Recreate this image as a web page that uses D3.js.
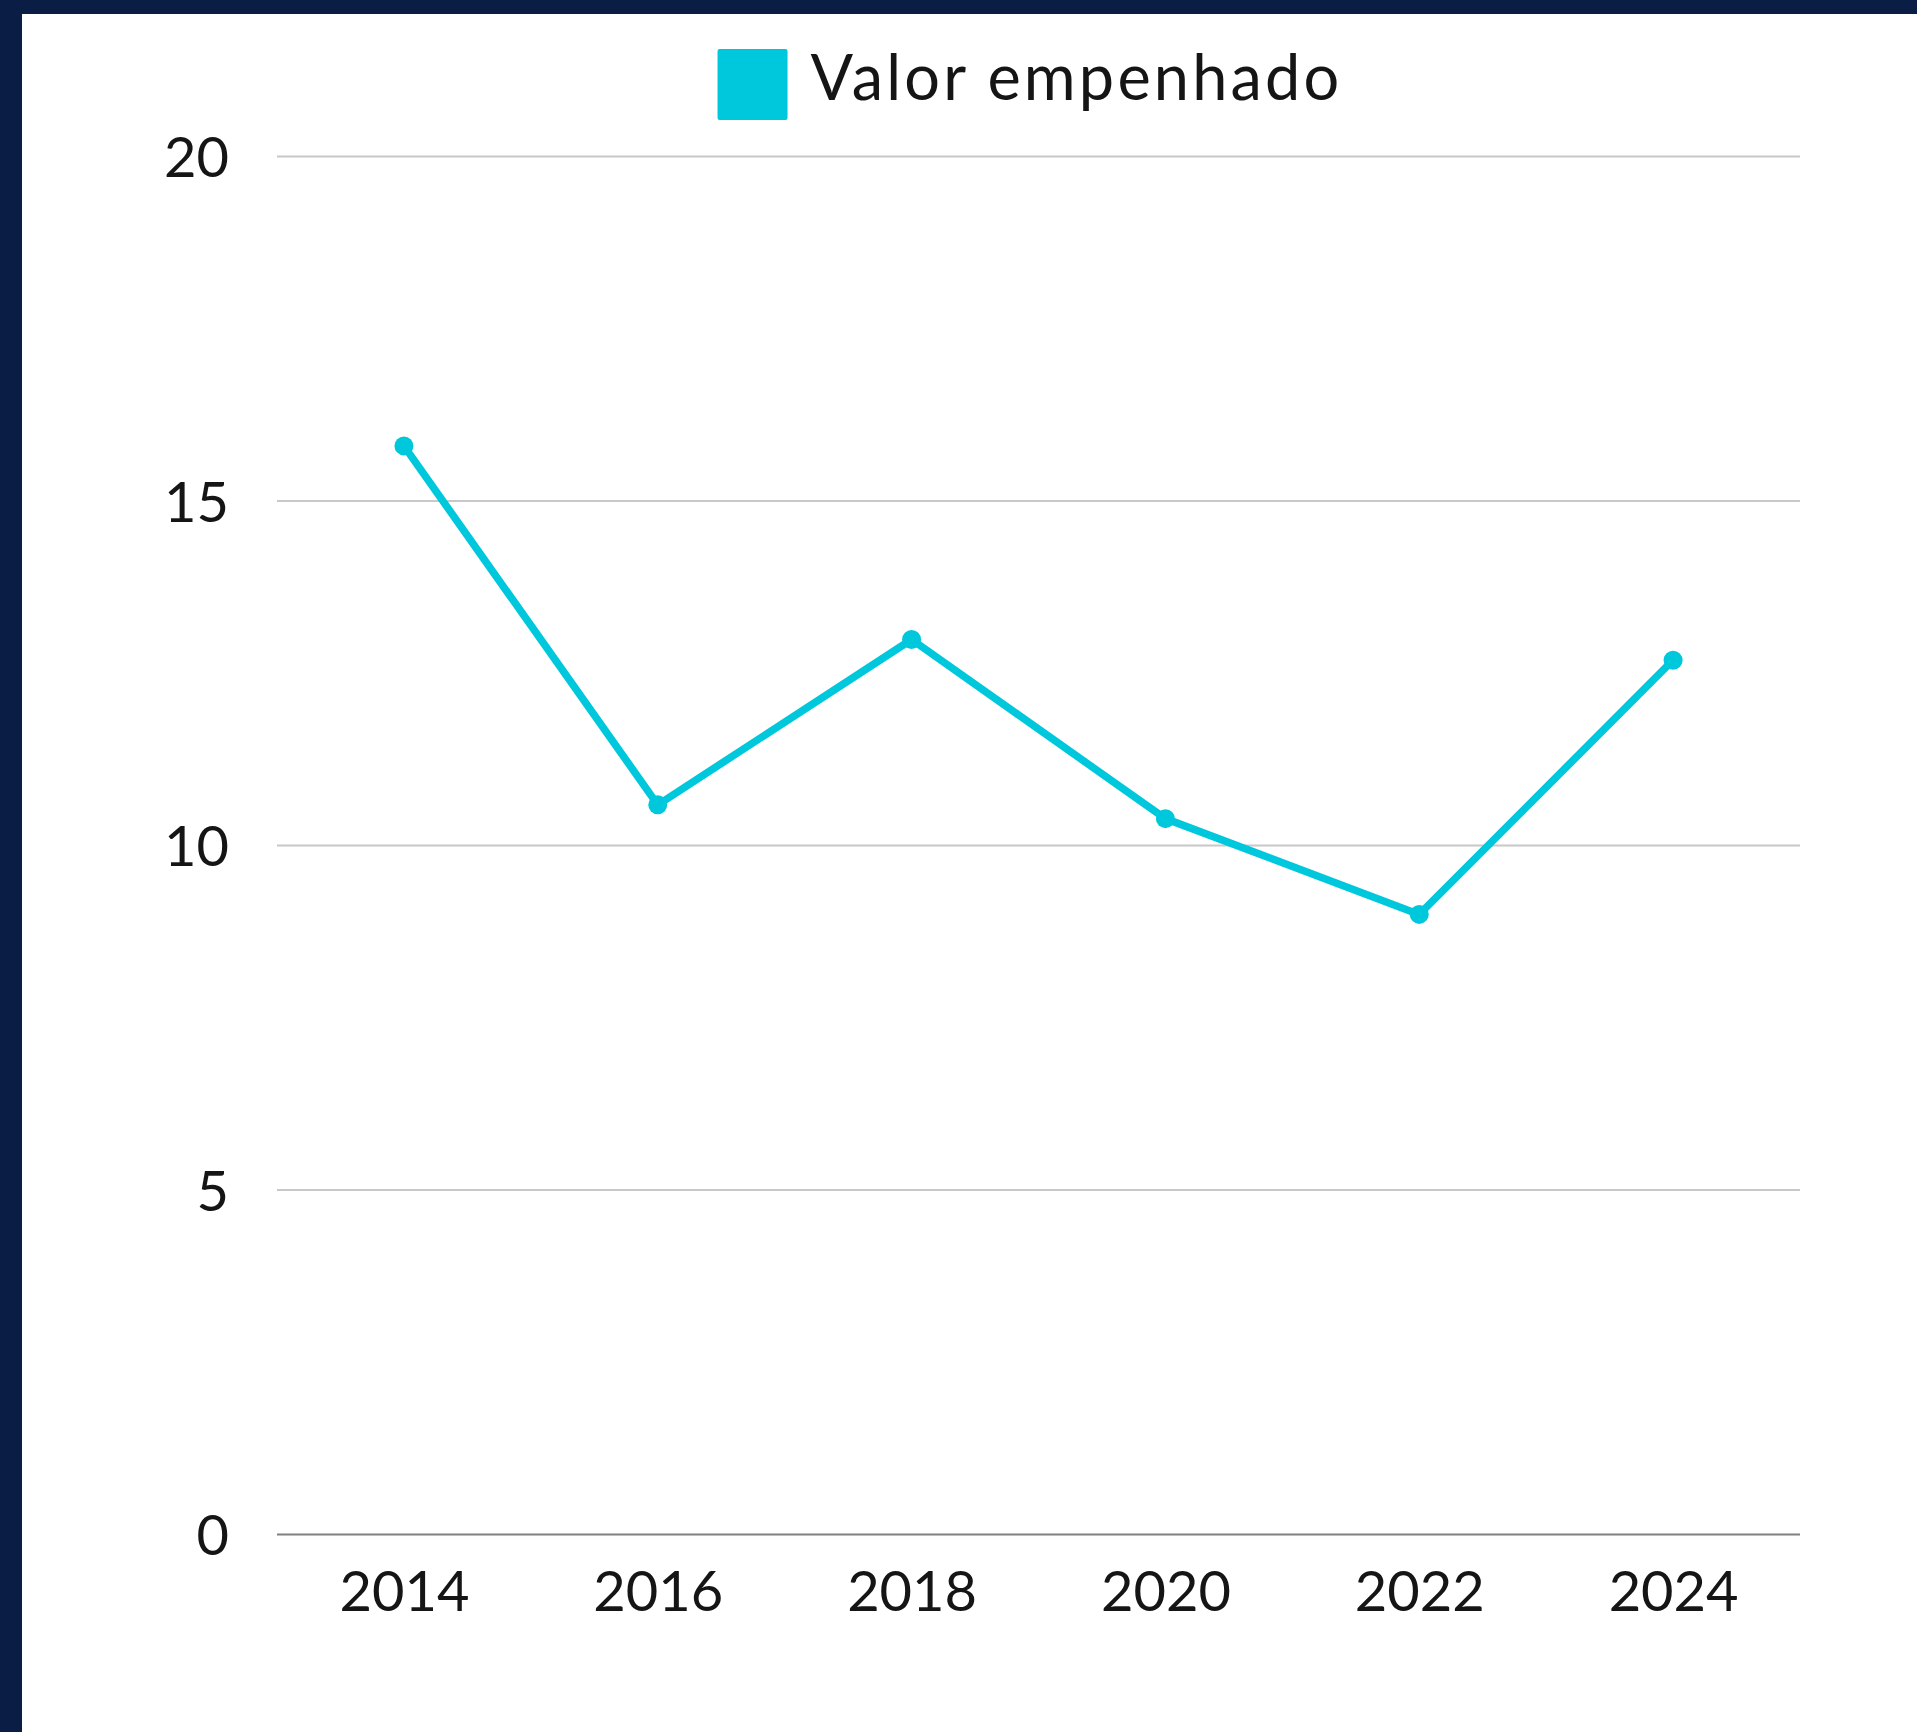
<!DOCTYPE html>
<html>
<head>
<meta charset="utf-8">
<script src="https://cdn.jsdelivr.net/npm/d3@7"></script>
<style>
  html, body { margin: 0; padding: 0; background: #0a1d45; }
  svg { display: block; }
</style>
</head>
<body>
<script>
const years = ["2014", "2016", "2018", "2020", "2022", "2024"];
const valorEmpenhado = [15.8, 10.59, 12.99, 10.39, 9.0, 12.69];
const yTicks = [0, 5, 10, 15, 20];
const seriesName = "Valor empenhado";

const W = 1917, H = 1732;
const margin = { left: 277, right: W - 1800, top: 156.5, bottom: H - 1534.5 };
const FONT = "Lato, 'Open Sans', 'Liberation Sans', sans-serif";
const color = "#00c8dc";
const TICK_FS = 56;

const svg = d3.select("body").append("svg").attr("width", W).attr("height", H);
svg.append("rect").attr("width", W).attr("height", H).attr("fill", "#0a1d45");
svg.append("rect").attr("x", 22).attr("y", 14).attr("width", W - 22).attr("height", H - 14).attr("fill", "#ffffff");

const x = d3.scalePoint().domain(years).range([margin.left, W - margin.right]).padding(0.5);
const y = d3.scaleLinear().domain([0, 20]).range([H - margin.bottom, margin.top]);

// gridlines
const grid = svg.append("g");
grid.selectAll("line").data(yTicks).join("line")
  .attr("x1", margin.left).attr("x2", W - margin.right)
  .attr("y1", d => y(d)).attr("y2", d => y(d))
  .attr("stroke", d => d === 0 ? "#808080" : "#c8c8c8")
  .attr("stroke-width", 2);

// y axis
const yAxis = svg.append("g").attr("transform", `translate(${margin.left},0)`)
  .call(d3.axisLeft(y).tickValues(yTicks).tickSize(0).tickPadding(48));
yAxis.select(".domain").remove();
yAxis.selectAll("text").attr("font-family", FONT).attr("font-size", TICK_FS).attr("fill", "#151515").attr("dy", "0.36em");

// x axis
const xAxis = svg.append("g").attr("transform", `translate(0,${y(0)})`)
  .call(d3.axisBottom(x).tickSize(0).tickPadding(36.5));
xAxis.select(".domain").remove();
xAxis.selectAll("text").attr("font-family", FONT).attr("font-size", TICK_FS).attr("fill", "#151515");

// line
const data = years.map((yr, i) => ({ yr, v: valorEmpenhado[i] }));
svg.append("path").datum(data)
  .attr("fill", "none").attr("stroke", color).attr("stroke-width", 7.5)
  .attr("stroke-linejoin", "round")
  .attr("d", d3.line().x(d => x(d.yr)).y(d => y(d.v)));
svg.append("g").selectAll("circle").data(data).join("circle")
  .attr("cx", d => x(d.yr)).attr("cy", d => y(d.v)).attr("r", 9.5).attr("fill", color);

// legend
const lg = svg.append("g");
lg.append("rect").attr("x", 0).attr("y", 0).attr("width", 70).attr("height", 71).attr("rx", 2).attr("fill", color);
const lt = lg.append("text").attr("x", 93).attr("y", 28.5).attr("dy", "0.36em")
  .attr("font-family", FONT).attr("font-size", 63).attr("letter-spacing", 3.2)
  .attr("fill", "#151515").text(seriesName);
const tw = lt.node().getComputedTextLength();
const totalW = 93 + tw;
lg.attr("transform", `translate(${1030 - totalW / 2},49)`);
</script>
</body>
</html>
